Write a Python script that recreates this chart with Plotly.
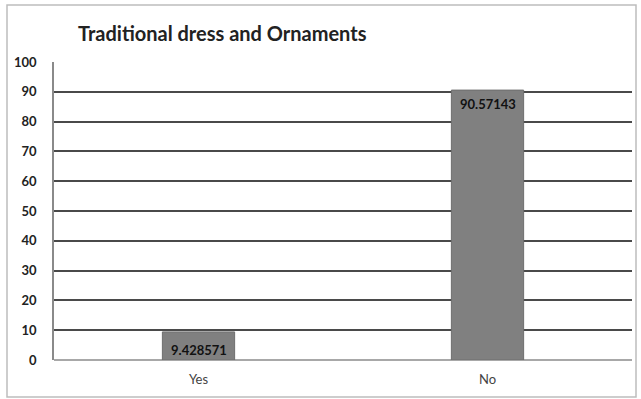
import plotly.graph_objects as go

categories = ["Yes", "No"]
values = [9.428571, 90.57143]
labels = ["9.428571", "90.57143"]
y_ticks = [0, 10, 20, 30, 40, 50, 60, 70, 80, 90, 100]
title_text = "Traditional dress and Ornaments"

FONT = "Lato, Carlito, 'Open Sans', sans-serif"

fig = go.Figure()
fig.add_trace(go.Bar(
    x=categories, y=values, width=0.25,
    marker=dict(color="#808080", line=dict(color="#6e6e6e", width=1)),
    hoverinfo="skip",
))

# data labels: short bar -> at base, tall bar -> at top inside
annotations = []
for c, v, t in zip(categories, values, labels):
    if v < 20:
        annotations.append(dict(x=c, y=0, text="<b>%s</b>" % t, showarrow=False,
                                yanchor="bottom", yshift=0,
                                font=dict(family=FONT, size=13, color="#111")))
    else:
        annotations.append(dict(x=c, y=v, text="<b>%s</b>" % t, showarrow=False,
                                yanchor="top", yshift=-4,
                                font=dict(family=FONT, size=13, color="#111")))

fig.update_layout(
    width=641, height=399,
    margin=dict(l=54, r=9, t=62, b=39),
    paper_bgcolor="white", plot_bgcolor="white",
    showlegend=False,
    font=dict(family=FONT),
    title=dict(text="<b>%s</b>" % title_text, x=(78 - 54) / 578, xref="paper", xanchor="left",
               y=1 - 34 / 399, yref="container", yanchor="middle",
               font=dict(family=FONT, size=20, color="#222")),
    annotations=annotations,
    shapes=[dict(type="rect", xref="paper", yref="paper",
                 x0=(7 - 54) / 578, x1=(636 - 54) / 578,
                 y0=(360 - 397) / 298, y1=(360 - 5) / 298,
                 line=dict(color="#bdbdbd", width=1.5), layer="below")],
    bargap=0.75,
)
fig.update_yaxes(range=[0, 100], tickvals=y_ticks, ticktext=[str(v) for v in y_ticks],
                 showgrid=True, gridcolor="#4a4a4a", gridwidth=1.5,
                 zeroline=True, zerolinecolor="#a8a8a8", zerolinewidth=1.5,
                 showline=True, linecolor="#8a8a8a", linewidth=1.5,
                 ticklabelstandoff=13,
                 tickfont=dict(family=FONT, size=13, color="#222", weight="bold"))
fig.update_xaxes(showgrid=False, showline=False, ticklabelstandoff=10,
                 tickfont=dict(family=FONT, size=13, color="#444"))

fig.write_html("out.html")
